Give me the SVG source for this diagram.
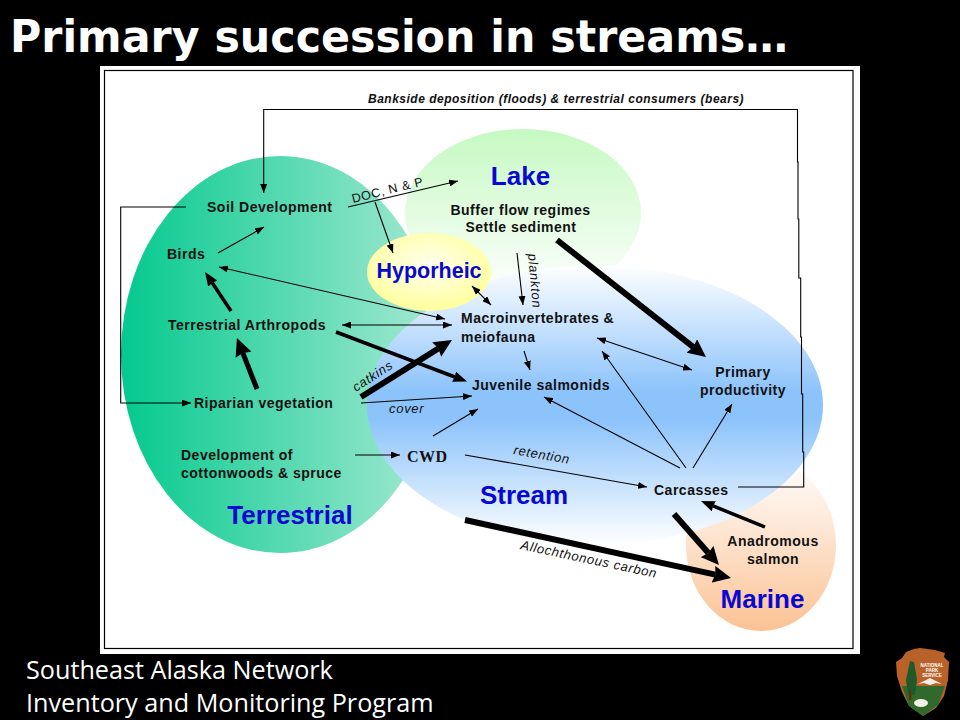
<svg xmlns="http://www.w3.org/2000/svg" width="960" height="720" viewBox="0 0 960 720">
<style>
.t{font-family:"Liberation Sans",Arial,sans-serif;font-weight:700;font-size:14px;letter-spacing:.5px;fill:#111}
.c{text-anchor:middle}
.i{font-family:"Liberation Sans",Arial,sans-serif;font-style:italic;font-size:13px;letter-spacing:.7px;fill:#111}
.ib{font-weight:700;font-size:12px;letter-spacing:.5px}
.z{font-family:"Liberation Sans",Arial,sans-serif;font-weight:700;fill:#0808d0;text-anchor:middle}
.f{font-family:"Open Sans","Noto Sans",sans-serif;font-size:25.200px;fill:#fff}
.l{fill:none;stroke:#000;stroke-width:1.1}
.a{marker-end:url(#h)}
.b{marker-start:url(#hs);marker-end:url(#h)}
.k{fill:none;stroke:#000}
</style>
<defs>
<marker id="h" markerUnits="userSpaceOnUse" markerWidth="9" markerHeight="7" refX="9" refY="3.500" orient="auto"><path d="M0 0L9 3.500L0 7z"/></marker>
<marker id="hs" markerUnits="userSpaceOnUse" markerWidth="9" markerHeight="7" refX="0" refY="3.500" orient="auto"><path d="M9 0L0 3.500L9 7z"/></marker>
<marker id="h16" markerUnits="userSpaceOnUse" markerWidth="18" markerHeight="17" refX="2" refY="8.500" orient="auto"><path d="M0 0L18 8.500L0 17L2 8.500z"/></marker>
<marker id="h13" markerUnits="userSpaceOnUse" markerWidth="14" markerHeight="11" refX="1" refY="5.500" orient="auto"><path d="M0 0L14 5.500L0 11L1 5.500z"/></marker>
<linearGradient id="gT" x1="0" x2="1" y1="0" y2="0"><stop offset="0" stop-color="#04c98e"/><stop offset="1" stop-color="#a6e9d2"/></linearGradient>
<linearGradient id="gL" x1="0" x2="0" y1="0" y2="1"><stop offset="0" stop-color="#c6f9c2"/><stop offset="1" stop-color="#ffffff"/></linearGradient>
<linearGradient id="gS" x1="0" x2="0" y1="0" y2="1"><stop offset="0" stop-color="#ffffff"/><stop offset=".45" stop-color="#8cc3fb"/><stop offset=".55" stop-color="#8cc3fb"/><stop offset="1" stop-color="#ffffff"/></linearGradient>
<linearGradient id="gM" x1="0" x2="0" y1="0" y2="1"><stop offset="0" stop-color="#ffffff"/><stop offset="1" stop-color="#fbc294"/></linearGradient>
<radialGradient id="gH" cx=".5" cy=".42" r=".6"><stop offset="0" stop-color="#fffff0"/><stop offset="1" stop-color="#ffff99"/></radialGradient>
</defs>
<rect width="960" height="720" fill="#000"/>
<text x="10" y="52" font-family="'DejaVu Sans',Verdana,sans-serif" font-weight="700" font-size="44" fill="#fff" textLength="778" lengthAdjust="spacingAndGlyphs">Primary succession in streams…</text>
<rect x="100" y="66" width="760" height="588" fill="#fff"/>
<rect x="104.500" y="70.500" width="748.500" height="578" fill="none" stroke="#000" stroke-width="1.200"/>

<g id="lake"><ellipse cx="523" cy="213" rx="118" ry="84" fill="url(#gL)"/></g>
<g id="terrestrial"><ellipse cx="280" cy="354.500" rx="159" ry="198.500" fill="url(#gT)"/></g>
<g id="marine"><ellipse cx="761" cy="545" rx="75" ry="86" fill="url(#gM)"/></g>
<g id="stream"><ellipse cx="595" cy="405" rx="228" ry="140" fill="url(#gS)"/></g>
<g id="hyporheic"><ellipse cx="429" cy="272" rx="62" ry="39" fill="url(#gH)"/></g>

<g id="connectors">
<path class="l" d="M738 487H803.700V452H802.700V394H801.500V337H800.700V278H798.800V219H798V162H797.500V109.500H263.700V193" marker-end="url(#h)"/>
<path class="l a" d="M186 207H120.700V403H191"/>
<path class="l a" d="M348 207L458 181"/>
<path class="l a" d="M375 202L393 253"/>
<path class="l a" d="M218 253L264 227"/>
<path class="l b" d="M219 267L445 319"/>
<path class="l b" d="M342 325H452"/>
<path class="l b" d="M472 286L491 305"/>
<path class="l a" d="M517 253L523 305"/>
<path class="l a" d="M524 351L530 370"/>
<path class="l b" d="M597 338L692 370"/>
<path class="l a" d="M686 468L602 351"/>
<path class="l a" d="M680 468L544 397"/>
<path class="l a" d="M693 468L732 404"/>
<path class="l a" d="M433 436L478 409"/>
<path class="l a" d="M361 403L472 396"/>
<path class="l a" d="M355 455H400"/>
<path class="l a" d="M465 455L647 487"/>
<path class="k" stroke-width="6" d="M557 240L693.400 347.100" marker-end="url(#h16)"/>
<path class="k" stroke-width="3.500" d="M336 332L454.900 377" marker-end="url(#h13)"/>
<path class="k" stroke-width="6" d="M361 397L438.400 348.500" marker-end="url(#h16)"/>
<path class="k" stroke-width="5" d="M257 389L242.800 352.900" marker-end="url(#h16)"/>
<path class="k" stroke-width="3.500" d="M231 311L212.200 282.800" marker-end="url(#h13)"/>
<path class="k" stroke-width="3.500" d="M765 527L713 505.900" marker-end="url(#h13)"/>
<path class="k" stroke-width="6" d="M674 514L708.400 553" marker-end="url(#h16)"/>
<path class="k" stroke-width="6" d="M465 520L715.400 574.600" marker-end="url(#h16)"/>
</g>

<text class="i ib" x="368" y="103">Bankside deposition (floods) &amp; terrestrial consumers (bears)</text>
<text class="i" transform="translate(353 203) rotate(-14)" style="font-style:normal;font-size:12.500px;letter-spacing:.6px">DOC, N &amp; P</text>
<text class="i" transform="translate(528 254) rotate(85)">plankton</text>
<text class="i" transform="translate(356 392) rotate(-33)">catkins</text>
<text class="i" x="389" y="413">cover</text>
<text class="i" transform="translate(513 454) rotate(10)">retention</text>
<text class="i" transform="translate(520 549) rotate(12)">Allochthonous carbon</text>

<g id="soil"><text class="t" x="207" y="212">Soil Development</text></g>
<g id="birds"><text class="t" x="167" y="259">Birds</text></g>
<g id="arthropods"><text class="t" x="168" y="330">Terrestrial Arthropods</text></g>
<g id="riparian"><text class="t" x="194" y="408">Riparian vegetation</text></g>
<g id="cottonwoods"><text class="t" x="181" y="460">Development of</text><text class="t" x="181" y="478">cottonwoods &amp; spruce</text></g>
<g id="cwd"><text x="407" y="462" font-family="'Liberation Serif',serif" font-weight="700" font-size="16" letter-spacing=".5" fill="#111">CWD</text></g>
<g id="buffer"><text class="t c" x="520.500" y="215">Buffer flow regimes</text><text class="t c" x="521" y="232">Settle sediment</text></g>
<g id="macro"><text class="t" x="461" y="323">Macroinvertebrates &amp;</text><text class="t" x="461" y="342">meiofauna</text></g>
<g id="juvenile"><text class="t" x="472" y="390">Juvenile salmonids</text></g>
<g id="primary"><text class="t c" x="743" y="377">Primary</text><text class="t c" x="743" y="395">productivity</text></g>
<g id="carcasses"><text class="t" x="654" y="495">Carcasses</text></g>
<g id="anadromous"><text class="t c" x="773" y="546">Anadromous</text><text class="t c" x="773" y="564">salmon</text></g>

<text class="z" x="520.500" y="185" font-size="26">Lake</text>
<text class="z" x="429" y="278" font-size="21.500">Hyporheic</text>
<text class="z" x="524" y="504" font-size="26">Stream</text>
<text class="z" x="290" y="524" font-size="26">Terrestrial</text>
<text class="z" x="762.500" y="608" font-size="26">Marine</text>

<text class="f" x="26" y="679">Southeast Alaska Network</text>
<text class="f" x="26" y="712">Inventory and Monitoring Program</text>

<g id="logo">
<path d="M906 652L914 649L920 648L935 650L945 653L944 657L949 662L948 680L944 696L936 708L923 716L909 706L902 692L897 676L896 662L902 658z" fill="#b8622a"/>
<path d="M902 686L945 686L938 705L923 716L909 706z" fill="#2f6a2c"/>
<path d="M918 684L930 678L942 684L936 683L930 685L924 683z" fill="#f4efe6"/>
<path d="M910 661L914 662L917 680L915 695H908L906 680z" fill="#1e5a2a"/>
<rect x="909" y="690" width="2.500" height="10" fill="#5a3414"/>
<ellipse cx="921" cy="703" rx="7" ry="4" fill="#f4f0e6"/>
<text x="932" y="667" text-anchor="middle" font-family="'Liberation Sans',sans-serif" font-weight="700" font-size="4.500" fill="#fff">NATIONAL</text>
<text x="932" y="672" text-anchor="middle" font-family="'Liberation Sans',sans-serif" font-weight="700" font-size="4.500" fill="#fff">PARK</text>
<text x="932" y="677" text-anchor="middle" font-family="'Liberation Sans',sans-serif" font-weight="700" font-size="4.500" fill="#fff">SERVICE</text>
</g>
</svg>
